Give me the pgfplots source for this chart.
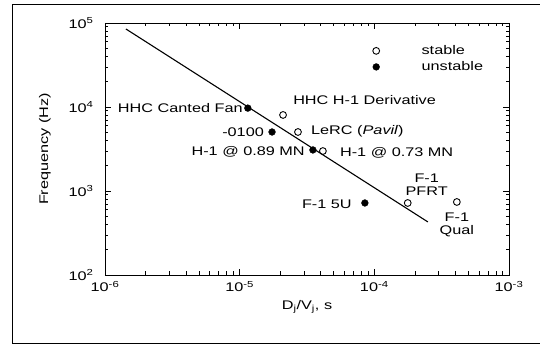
\documentclass[border=0pt]{standalone}
\usepackage{pgfplots}
\pgfplotsset{compat=1.18}
\usepackage{fontspec}
\setmainfont{Liberation Sans}[FakeStretch=1.3]
\newcommand{\lf}{\fontsize{12.5}{15}\selectfont}
\newcommand{\tf}{\fontsize{12.5}{14}\selectfont}
\begin{document}
\begin{tikzpicture}[x=1pt,y=1pt]
\useasboundingbox (0,0) rectangle (540,347);
\draw[line width=1pt] (540,342)--(12,342)--(12,3)--(540,3);
\begin{axis}[
  at={(105pt,72pt)}, anchor=south west, scale only axis,
  width=404pt, height=252pt,
  xmode=log, ymode=log,
  xmin=1e-6, xmax=1e-3, ymin=1e2, ymax=1e5,
  xtick={1e-6,1e-5,1e-4,1e-3},
  xticklabels={10\textsuperscript{-6},10\textsuperscript{-5},10\textsuperscript{-4},10\textsuperscript{-3}},
  ytick={1e2,1e3,1e4,1e5},
  yticklabels={10\textsuperscript{2},10\textsuperscript{3},10\textsuperscript{4},10\textsuperscript{5}},
  minor xtick={2e-6,3e-6,4e-6,5e-6,6e-6,7e-6,8e-6,9e-6,2e-5,3e-5,4e-5,5e-5,6e-5,7e-5,8e-5,9e-5,2e-4,3e-4,4e-4,5e-4,6e-4,7e-4,8e-4,9e-4},
  minor ytick={200,300,400,500,600,700,800,900,2000,3000,4000,5000,6000,7000,8000,9000,20000,30000,40000,50000,60000,70000,80000,90000},
  tick label style={font=\tf},
  yticklabel style={xshift=-8pt},
  xticklabel style={yshift=-3pt},
  tick align=inside, major tick length=6pt, minor tick length=3.5pt,
  axis line style={line width=0.9pt},
  every tick/.style={black, line width=0.7pt},
  xlabel={D\textsubscript{j}/V\textsubscript{j}, s},
  ylabel={Frequency (Hz)},
  label style={font=\lf},
  ylabel style={yshift=11pt},
  xlabel style={yshift=-1pt},
  legend style={draw=none, fill=none, font=\lf, at={(0.655,0.927)}, anchor=north west,
    row sep=1.5pt, /tikz/every odd column/.append style={column sep=40pt}},
  legend cell align=left,
]
% stable (open)
\addplot[only marks, mark=o, mark size=3.4pt, black, line width=0.9pt] coordinates {
  (2.10e-5,8040) (2.71e-5,5040) (4.15e-5,2990) (1.77e-4,720) (4.10e-4,740)
};
\addlegendentry{stable}
% unstable (filled)
\addplot[only marks, mark=*, mark size=3.4pt, black] coordinates {
  (1.15e-5,9700) (1.74e-5,5040) (3.50e-5,3080) (8.51e-5,720)
};
\addlegendentry{unstable}
% correlation line
\addplot[black, line width=1.1pt, forget plot] coordinates {(1.43e-6,8.49e4) (2.5e-4,428)};

\node[font=\lf, anchor=east, xshift=-1.5pt, inner sep=3.5pt] at (axis cs:1.15e-5,9700) {HHC Canted Fan};
\node[font=\lf, anchor=east, xshift=-4.5pt, inner sep=3.5pt] at (axis cs:1.74e-5,5040) {-0100};
\node[font=\lf, anchor=west, xshift=6.5pt, yshift=15pt, inner sep=3.5pt] at (axis cs:2.10e-5,8040) {HHC H-1 Derivative};
\node[font=\lf, anchor=west, xshift=9.5pt, yshift=1pt, inner sep=3.5pt] at (axis cs:2.71e-5,5040) {LeRC (\textit{Pavil})};
\node[font=\lf, anchor=east, xshift=-4.5pt, yshift=-2pt, inner sep=3.5pt] at (axis cs:3.50e-5,3080) {H-1 @ 0.89 MN};
\node[font=\lf, anchor=west, xshift=13.5pt, yshift=-2pt, inner sep=3.5pt] at (axis cs:4.15e-5,2990) {H-1 @ 0.73 MN};
\node[font=\lf, anchor=east, xshift=-9.5pt, yshift=-1pt, inner sep=3.5pt] at (axis cs:8.51e-5,720) {F-1 5U};
\node[font=\lf, align=center, xshift=19pt, yshift=18.5pt, inner sep=0pt] at (axis cs:1.77e-4,720) {F-1\\[-1.5pt]PFRT};
\node[font=\lf, align=center, yshift=-23pt, inner sep=0pt] at (axis cs:4.10e-4,740) {F-1\\[-1.5pt]Qual};
\end{axis}
\end{tikzpicture}
\end{document}
